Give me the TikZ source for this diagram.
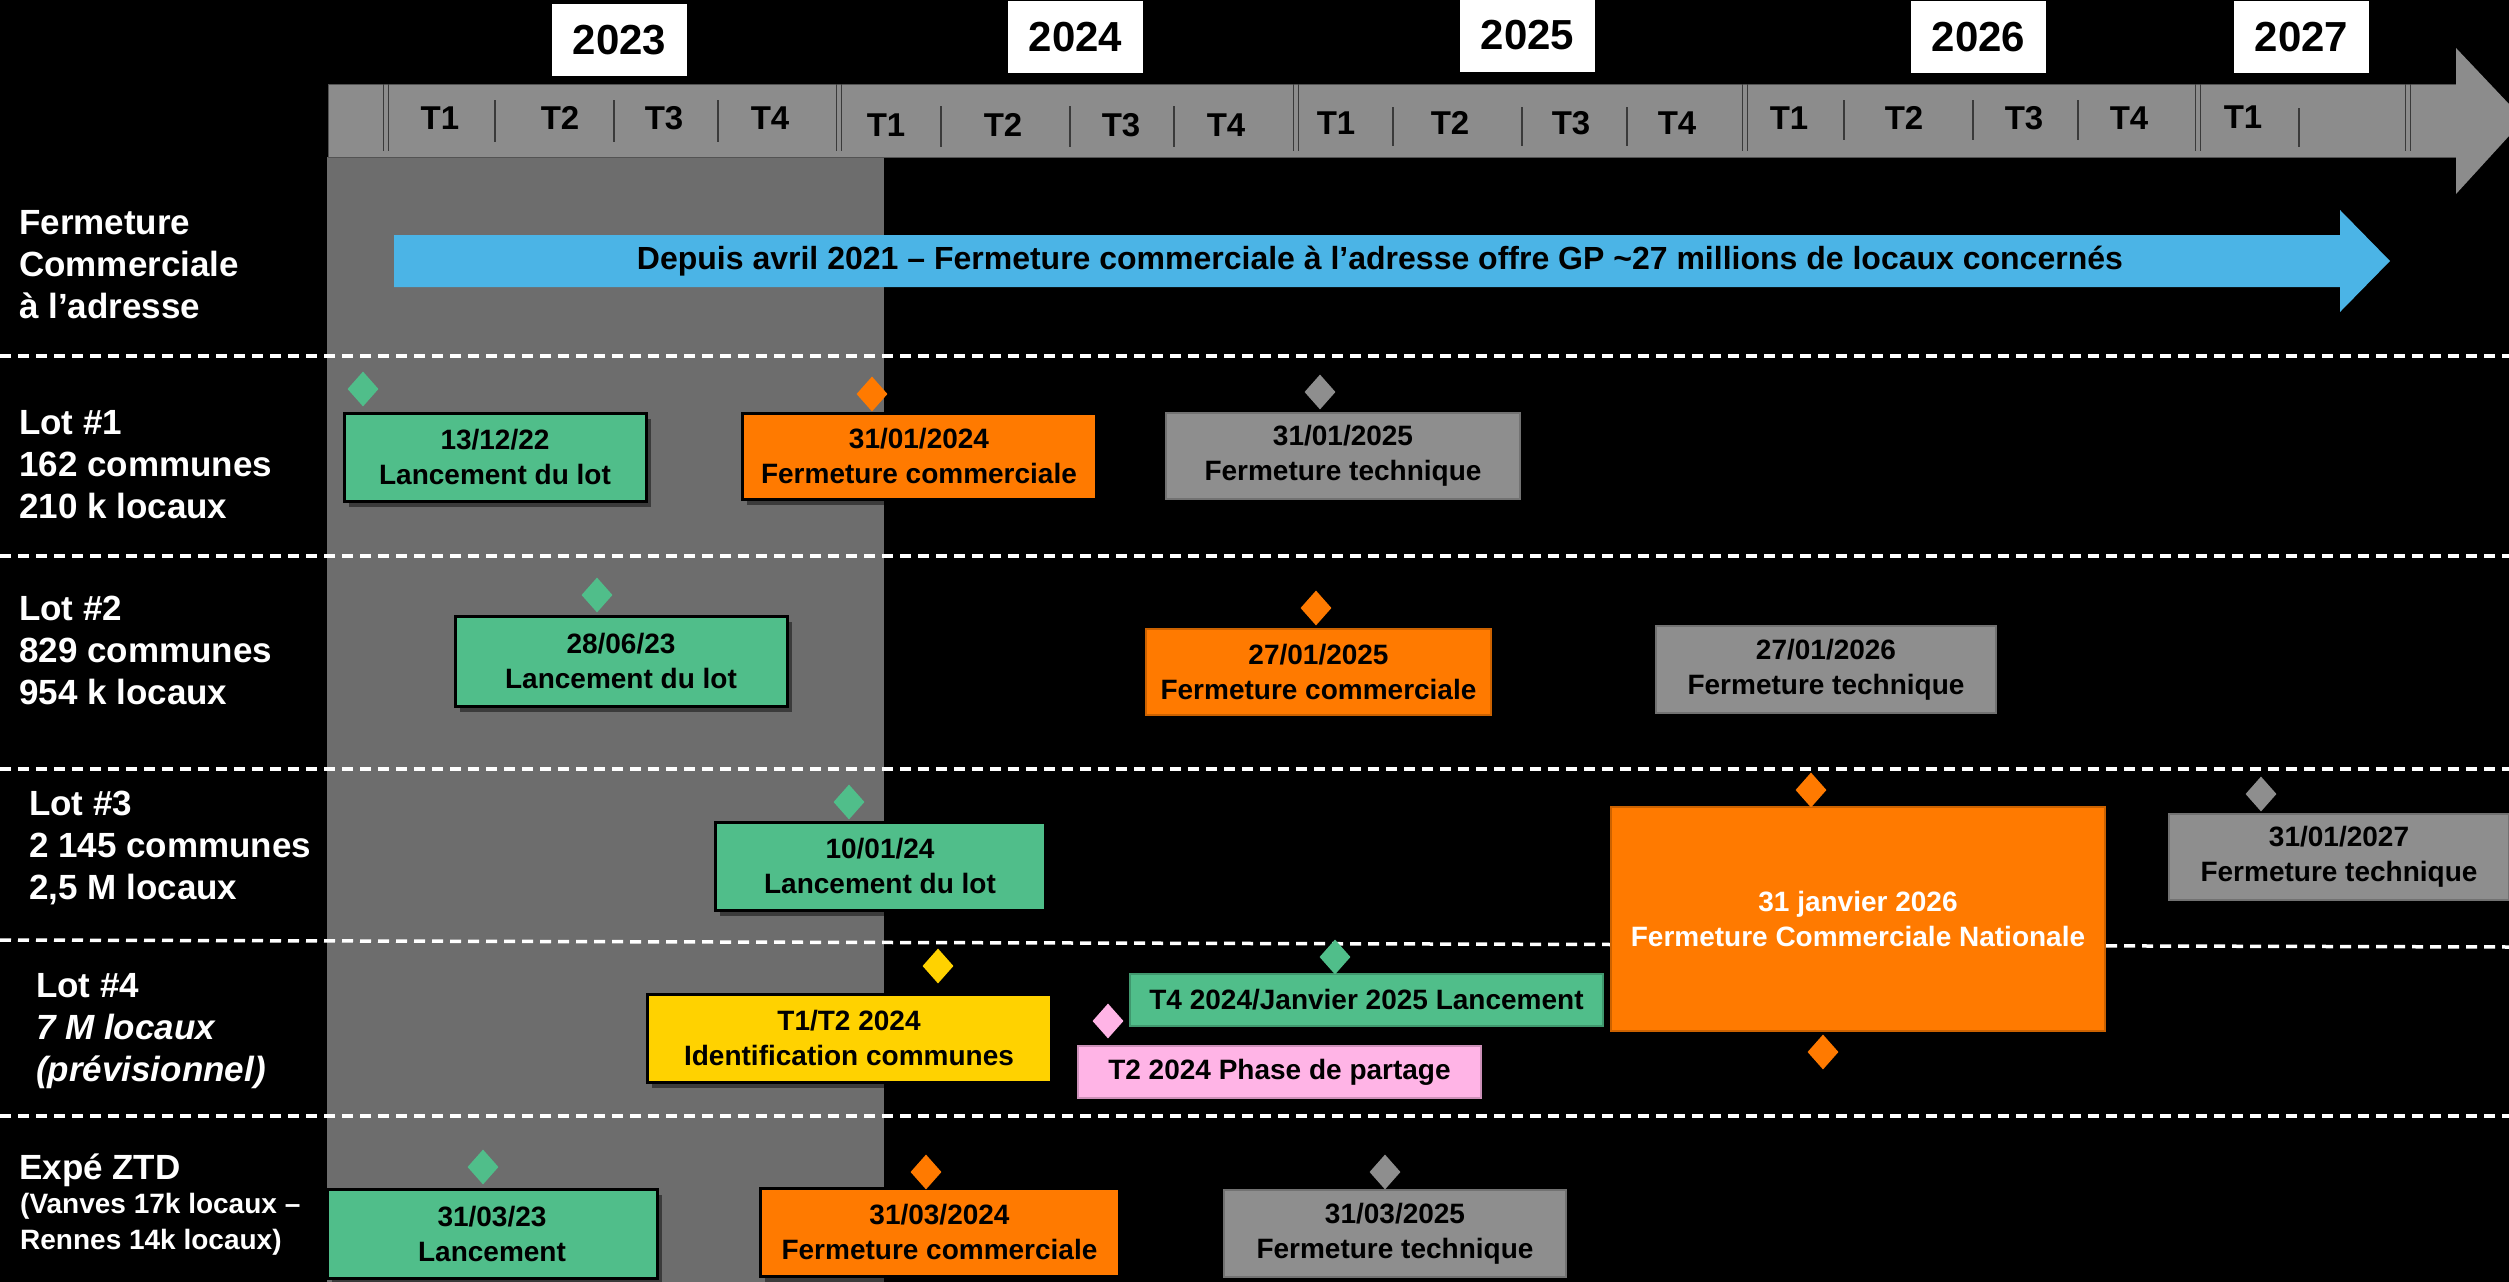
\documentclass[tikz,border=0pt]{standalone}
\usepackage{fontspec}
\setmainfont{Liberation Sans}
\usetikzlibrary{shapes.geometric,shadows}
\definecolor{cgreen}{HTML}{50BE8A}
\definecolor{corange}{HTML}{FF7A00}
\definecolor{cgray}{HTML}{8E8E8E}
\definecolor{cbar}{HTML}{8C8C8C}
\definecolor{cshade}{HTML}{6D6D6D}
\definecolor{cblue}{HTML}{4BB4E6}
\definecolor{cyellow}{HTML}{FFD200}
\definecolor{cpink}{HTML}{FFB4E6}
\definecolor{cline}{HTML}{3A3A3A}
\newcommand\tlboxfont{\fontsize{28}{35}\selectfont\bfseries}
\newcommand\tllabfont{\fontsize{35}{42}\selectfont\bfseries}
\newcommand\tlsubfont{\fontsize{28}{36}\selectfont\bfseries}
\newcommand\tlyearfont{\fontsize{42}{48}\selectfont\bfseries}
\newcommand\tlqfont{\fontsize{33}{38}\selectfont\bfseries}
\begin{document}
\begin{tikzpicture}[x=1pt,y=-1pt,
  evbox/.style={rectangle, inner sep=0pt, align=center, font=\tlboxfont, text=black},
  darkb/.style={draw=black, line width=3pt, drop shadow={shadow xshift=5pt, shadow yshift=-6pt, opacity=0.45, fill=black}},
  lightb/.style={draw=#1!80!black, line width=1.5pt},
  mst/.style={shape=diamond, inner sep=0pt, minimum width=31pt, minimum height=35pt, fill=#1, draw=none},
  sepline/.style={white, line width=3.5pt, dash pattern=on 11pt off 7pt},
  dbl/.style={cline, line width=1.8pt},
  qtick/.style={cline, line width=1.8pt},
  yearbox/.style={rectangle, fill=white, inner sep=0pt, minimum width=135pt, minimum height=72pt, font=\tlyearfont, text=black},
  qlab/.style={font=\tlqfont, text=black, inner sep=0pt},
  leftlab/.style={font=\tllabfont, text=white, align=left, anchor=west, inner sep=0pt},
]
% background
\useasboundingbox (0,0) rectangle (2509,1282);
\fill[black] (0,0) rectangle (2509,1282);
% shaded 2023 zone
\fill[cshade] (327,157) rectangle (884,1282);

% timeline bar
\fill[cbar, draw=cline!70!cbar, line width=1pt] (328,84) rectangle (2456,157);
\fill[cbar] (2456,48) -- (2509,104) -- (2509,136) -- (2456,194) -- cycle;
\foreach \x in {386,839,1296,1745,2198,2408}{
  \draw[dbl] (\x-2.5,84) -- (\x-2.5,151);
  \draw[dbl] (\x+2.5,84) -- (\x+2.5,151);
}
\foreach \x in {495,614,718}{\draw[qtick] (\x,100) -- (\x,142);}
\foreach \x in {941,1070,1174}{\draw[qtick] (\x,106) -- (\x,147);}
\foreach \x in {1393,1522,1627}{\draw[qtick] (\x,107) -- (\x,146);}
\foreach \x in {1844,1973,2078}{\draw[qtick] (\x,100) -- (\x,140);}
\draw[qtick] (2299,108) -- (2299,147);

% quarter labels
\node[qlab] (q23a) at (440,118) {T1};
\node[qlab] (q23b) at (560,118) {T2};
\node[qlab] (q23c) at (664,118) {T3};
\node[qlab] (q23d) at (770,118) {T4};
\node[qlab] (q24a) at (886,125) {T1};
\node[qlab] (q24b) at (1003,125) {T2};
\node[qlab] (q24c) at (1121,125) {T3};
\node[qlab] (q24d) at (1226,125) {T4};
\node[qlab] (q25a) at (1336,123) {T1};
\node[qlab] (q25b) at (1450,123) {T2};
\node[qlab] (q25c) at (1571,123) {T3};
\node[qlab] (q25d) at (1677,123) {T4};
\node[qlab] (q26a) at (1789,118) {T1};
\node[qlab] (q26b) at (1904,118) {T2};
\node[qlab] (q26c) at (2024,118) {T3};
\node[qlab] (q26d) at (2129,118) {T4};
\node[qlab] (q27a) at (2243,117) {T1};

% year boxes
\node[yearbox] (y2023) at (619.5,40) {2023};
\node[yearbox] (y2024) at (1075.5,37) {2024};
\node[yearbox] (y2025) at (1527.5,35.5) {2025};
\node[yearbox] (y2026) at (1978.5,37) {2026};
\node[yearbox] (y2027) at (2301.5,37) {2027};

% blue arrow
\fill[cblue] (394,235) -- (2340,235) -- (2340,210) -- (2390,261) -- (2340,312) -- (2340,287) -- (394,287) -- cycle;
\node[font=\fontsize{32}{36}\selectfont\bfseries, text=black, inner sep=0pt] (fctext) at (1380,261)
  {Depuis avril 2021 – Fermeture commerciale à l’adresse offre GP \textasciitilde27 millions de locaux concernés};

% dashed separators
\draw[sepline] (0,356) -- (2509,356);
\draw[sepline] (0,556) -- (2509,556);
\draw[sepline] (0,769) -- (2509,769);
\draw[sepline] (0,940) -- (2509,947);
\draw[sepline] (0,1116) -- (2509,1116);

% left labels
\node[leftlab] (lfc) at (19,265) {Fermeture\\Commerciale\\à l’adresse};
\node[leftlab] (ll1) at (19,465) {Lot \#1\\162 communes\\210 k locaux};
\node[leftlab] (ll2) at (19,650) {Lot \#2\\829 communes\\954 k locaux};
\node[leftlab] (ll3) at (29,848) {Lot \#3\\2 145 communes\\2,5 M locaux};
\node[leftlab] (ll4) at (36,1031) {Lot \#4\\\itshape 7 M locaux\\\itshape (prévisionnel)};
\node[leftlab] (lex) at (19,1170) {Expé ZTD};
\node[leftlab, font=\tlsubfont] (lexs) at (20,1224) {(Vanves 17k locaux –\\Rennes 14k locaux)};

% Lot 1
\node[evbox, fill=cgreen, darkb, minimum width=302pt, minimum height=88pt] (l1a) at (495,457) {13/12/22\\Lancement du lot};
\node[evbox, fill=corange, darkb, minimum width=354pt, minimum height=86pt] (l1b) at (919,456) {31/01/2024\\Fermeture commerciale};
\node[evbox, fill=cgray, lightb=cgray, minimum width=354pt, minimum height=86pt] (l1c) at (1343,456) {31/01/2025\\Fermeture technique};
% Lot 2
\node[evbox, fill=cgreen, darkb, minimum width=332pt, minimum height=90pt] (l2a) at (621,661) {28/06/23\\Lancement du lot};
\node[evbox, fill=corange, lightb=corange, minimum width=345pt, minimum height=86pt] (l2b) at (1318.5,672) {27/01/2025\\Fermeture commerciale};
\node[evbox, fill=cgray, lightb=cgray, minimum width=340pt, minimum height=87pt] (l2c) at (1826,669.5) {27/01/2026\\Fermeture technique};
% Lot 3
\node[evbox, fill=cgreen, darkb, minimum width=330pt, minimum height=88pt] (l3a) at (880,866) {10/01/24\\Lancement du lot};
\node[evbox, fill=corange, lightb=corange, minimum width=494pt, minimum height=224pt, text=white] (l3b) at (1858,919) {31 janvier 2026\\Fermeture Commerciale Nationale};
\node[evbox, fill=cgray, lightb=cgray, minimum width=340pt, minimum height=86pt] (l3c) at (2339,857) {31/01/2027\\Fermeture technique};
% Lot 4
\node[evbox, fill=cyellow, darkb, minimum width=404pt, minimum height=88pt] (l4a) at (849,1038) {T1/T2 2024\\Identification communes};
\node[evbox, fill=cgreen, lightb=cgreen, minimum width=473pt, minimum height=52pt] (l4b) at (1366.5,1000) {T4 2024/Janvier 2025 Lancement};
\node[evbox, fill=cpink, lightb=cpink, minimum width=403pt, minimum height=52pt] (l4c) at (1279.5,1072) {T2 2024 Phase de partage};
% Expe ZTD
\node[evbox, fill=cgreen, darkb, minimum width=330pt, minimum height=89pt] (exa) at (492,1233.5) {31/03/23\\Lancement};
\node[evbox, fill=corange, darkb, minimum width=359pt, minimum height=88pt] (exb) at (939.5,1232) {31/03/2024\\Fermeture commerciale};
\node[evbox, fill=cgray, lightb=cgray, minimum width=342pt, minimum height=87pt] (exc) at (1395,1233.5) {31/03/2025\\Fermeture technique};

% milestones
\node[mst=cgreen] (d1) at (363,389) {};
\node[mst=corange] (d2) at (872,394) {};
\node[mst=cgray] (d3) at (1320,392) {};
\node[mst=cgreen] (d4) at (597,595) {};
\node[mst=corange] (d5) at (1316,608) {};
\node[mst=cgreen] (d6) at (849,802) {};
\node[mst=corange] (d7) at (1811,790) {};
\node[mst=cgray] (d8) at (2261,794) {};
\node[mst=corange] (d9) at (1823,1052) {};
\node[mst=cyellow] (d10) at (938,966) {};
\node[mst=cgreen] (d11) at (1335,957) {};
\node[mst=cpink] (d12) at (1108,1021) {};
\node[mst=cgreen] (d13) at (483,1167) {};
\node[mst=corange] (d14) at (926,1172) {};
\node[mst=cgray] (d15) at (1385,1172) {};
\end{tikzpicture}
\end{document}
